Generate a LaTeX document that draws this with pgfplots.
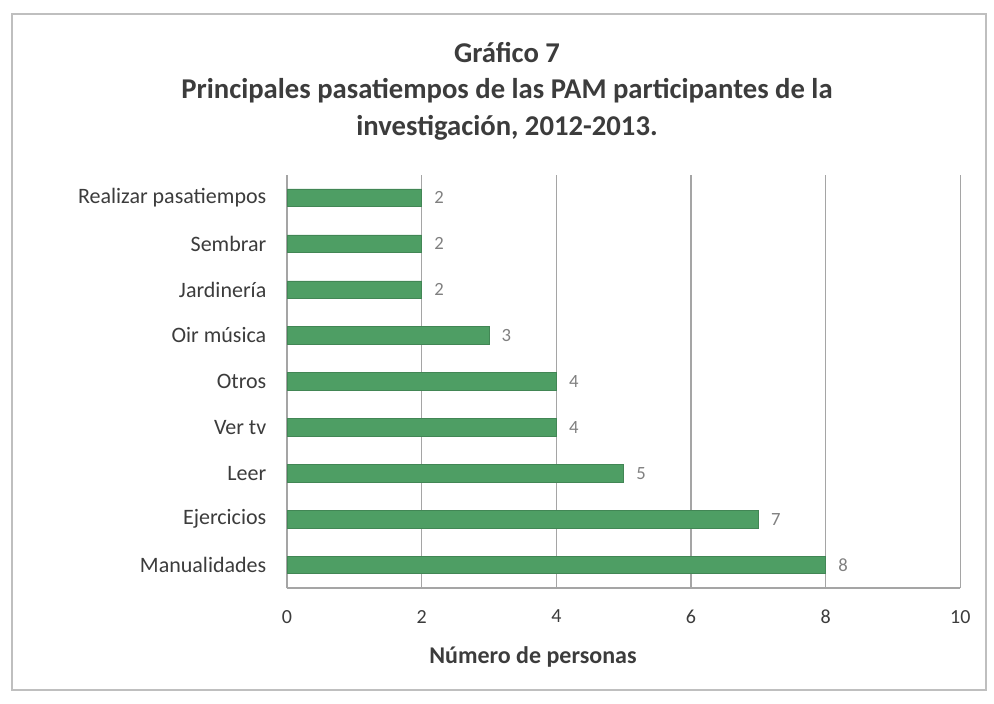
\documentclass[border=0pt]{standalone}
\usepackage{pgfplots}
\pgfplotsset{compat=1.18}
\usepackage{fontspec}
\setmainfont{Carlito}
\definecolor{barg}{RGB}{78,158,100}
\definecolor{txt}{RGB}{60,60,60}
\definecolor{gridc}{RGB}{165,165,165}
\begin{document}
\begin{tikzpicture}[x=0.75pt,y=0.75pt]
\fill[white] (0,0) rectangle (994,703);
\draw[gray!50, line width=1pt] (12,13) rectangle (986,689);
\node[font=\fontsize{21.5}{24}\selectfont\bfseries, text=txt] at (507,650) {Gráfico 7};
\node[font=\fontsize{21.5}{24}\selectfont\bfseries, text=txt] at (507,612) {Principales pasatiempos de las PAM participantes de la};
\node[font=\fontsize{21.5}{24}\selectfont\bfseries, text=txt] at (507,575) {investigación, 2012-2013.};
\begin{axis}[
  at={(215.25pt,86.25pt)}, anchor=south west,
  scale only axis, width=505pt, height=310pt,
  xbar, bar width=13pt,
  xmin=0, xmax=10, ymin=-0.5, ymax=8.5,
  xtick={0,2,4,6,8,10},
  ytick={0,...,8},
  yticklabels={Manualidades,Ejercicios,Leer,Ver tv,Otros,Oir música,Jardinería,Sembrar,Realizar pasatiempos},
  xmajorgrids, major grid style={gridc, line width=0.8pt},
  axis x line*=bottom, axis y line*=left,
  axis line style={gridc, line width=0.8pt},
  major tick length=0pt,
  tick label style={font=\fontsize{15}{17}\selectfont, text=txt},
  yticklabel style={font=\fontsize{16.5}{18}\selectfont, xshift=-12pt},
  /pgf/number format/assume math mode=true,
  xticklabel style={yshift=-13pt},
  xlabel={Número de personas},
  xlabel style={font=\fontsize{18}{20}\selectfont\bfseries, text=txt, yshift=-10pt, xshift=-68pt},
  nodes near coords,
  nodes near coords style={font=\fontsize{14}{16}\selectfont, text=gray, anchor=west, xshift=6pt},
  clip=false,
]
\addplot[fill=barg, draw=barg!85!black, line width=0.4pt] coordinates {
(8,0) (7,1) (5,2) (4,3) (4,4) (3,5) (2,6) (2,7) (2,8)};
\end{axis}
\end{tikzpicture}
\end{document}
